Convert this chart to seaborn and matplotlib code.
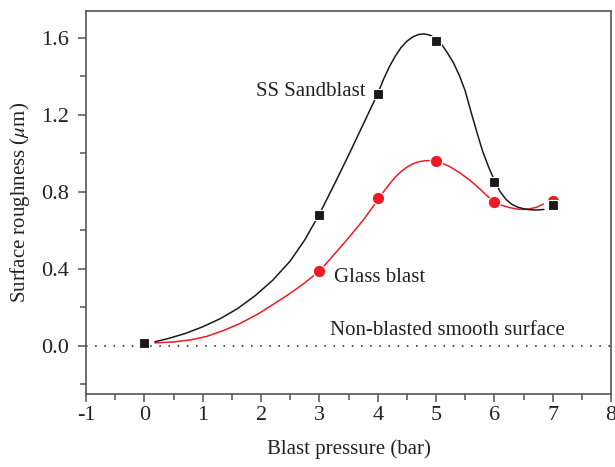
import numpy as np
import pandas as pd
import matplotlib
matplotlib.use("Agg")
import matplotlib.pyplot as plt
import seaborn as sns
from matplotlib.ticker import MultipleLocator, FormatStrFormatter

# measured points
pressure = [0, 3, 4, 5, 6, 7]
ss_sand = [0.015, 0.68, 1.31, 1.585, 0.85, 0.73]
glass = [0.01, 0.39, 0.77, 0.96, 0.745, 0.75]

# smooth connecting curves
ss_curve_x = [0.18, 0.4, 0.7, 1.0, 1.3, 1.6, 1.9, 2.2, 2.5, 2.75, 3.0, 3.25,
              3.5, 3.75, 4.0, 4.1, 4.2, 4.3, 4.4, 4.5, 4.6, 4.7, 4.8, 4.9, 5.0,
              5.1, 5.2, 5.3, 5.4, 5.5, 5.6, 5.7, 5.8, 5.9, 6.0, 6.1, 6.2, 6.3,
              6.4, 6.5, 6.6, 6.7, 6.85]
ss_curve_y = [0.02, 0.036, 0.063, 0.098, 0.14, 0.193, 0.26, 0.34, 0.44, 0.55,
              0.684, 0.835, 0.99, 1.15, 1.31, 1.385, 1.45, 1.505, 1.55,
              1.583, 1.605, 1.618, 1.621, 1.614, 1.597, 1.565, 1.52, 1.47,
              1.405, 1.325, 1.215, 1.11, 1.01, 0.93, 0.86, 0.80, 0.76, 0.735,
              0.72, 0.712, 0.707, 0.705, 0.708]
gl_curve_x = [0.18, 0.5, 0.8, 1.07, 1.35, 1.64, 1.95, 2.21, 2.45, 2.7, 3.0,
              3.25, 3.5, 3.75, 4.0, 4.1, 4.2, 4.3, 4.4, 4.5, 4.6, 4.7, 4.8, 4.9,
              5.0, 5.1, 5.24, 5.4, 5.58, 5.75, 5.87, 6.0, 6.1, 6.27, 6.4, 6.5,
              6.6, 6.73, 6.84]
gl_curve_y = [0.014, 0.019, 0.03, 0.048, 0.078, 0.115, 0.165, 0.215, 0.262, 0.315,
              0.387, 0.473, 0.56, 0.652, 0.757, 0.80, 0.84, 0.876, 0.905, 0.928,
              0.945, 0.956, 0.961, 0.962, 0.959, 0.949, 0.93, 0.90, 0.86, 0.815,
              0.78, 0.748, 0.732, 0.717, 0.71, 0.708, 0.711, 0.72, 0.736]

BLACK = "#1a1a1a"
RED = "#ed1c24"
TXT = "#222222"

sns.set_style("ticks")
plt.rcParams["font.family"] = ["Liberation Serif", "DejaVu Serif"]
plt.rcParams["mathtext.fontset"] = "stix"
plt.rcParams["axes.unicode_minus"] = False

fig = plt.figure(figsize=(6.15, 4.67), dpi=100)
ax = fig.add_axes([0.140, 0.157, 0.8535, 0.8194])

ax.axhline(0, color=BLACK, lw=1.1, ls=(0, (1, 5)), zorder=1)

sns.lineplot(x=gl_curve_x, y=gl_curve_y, color=RED, lw=1.1, ax=ax, zorder=2)
sns.lineplot(x=ss_curve_x, y=ss_curve_y, color=BLACK, lw=1.1, ax=ax, zorder=2)
sns.scatterplot(x=pressure[1:], y=glass[1:], color=RED, marker="o", s=80,
                edgecolor="white", linewidth=0.8, ax=ax, zorder=3)
sns.scatterplot(x=pressure, y=ss_sand, color=BLACK, marker="s", s=60,
                edgecolor="white", linewidth=0.8, ax=ax, zorder=4)

ax.text(3.80, 1.32, "SS Sandblast", ha="right", va="center", fontsize=15, color=TXT)
ax.text(3.25, 0.355, "Glass blast", ha="left", va="center", fontsize=15, color=TXT)
ax.text(3.19, 0.08, "Non-blasted smooth surface", ha="left", va="center",
        fontsize=15, color=TXT)

ax.set_xlim(-1, 8)
ax.set_ylim(-0.25, 1.74)
ax.xaxis.set_major_locator(MultipleLocator(1))
ax.xaxis.set_minor_locator(MultipleLocator(0.5))
ax.yaxis.set_major_locator(MultipleLocator(0.4))
ax.yaxis.set_minor_locator(MultipleLocator(0.2))
ax.yaxis.set_major_formatter(FormatStrFormatter("%.1f"))

for s in ax.spines.values():
    s.set_color("#555555")
    s.set_linewidth(1.2)
ax.tick_params(which="both", direction="out", color="#555555", width=1.1,
               labelsize=16, labelcolor=TXT, top=False, right=False)
ax.tick_params(which="major", length=6)
ax.tick_params(which="minor", length=4)
ax.tick_params(axis="y", which="major", pad=6)
ax.tick_params(axis="x", which="major", pad=3)

ax.set_xlabel("Blast pressure (bar)", fontsize=15, color=TXT, labelpad=10)
ax.set_ylabel(r"Surface roughness ($\mu$m)", fontsize=15, color=TXT, labelpad=7)

fig.savefig("out.png", dpi=100)
